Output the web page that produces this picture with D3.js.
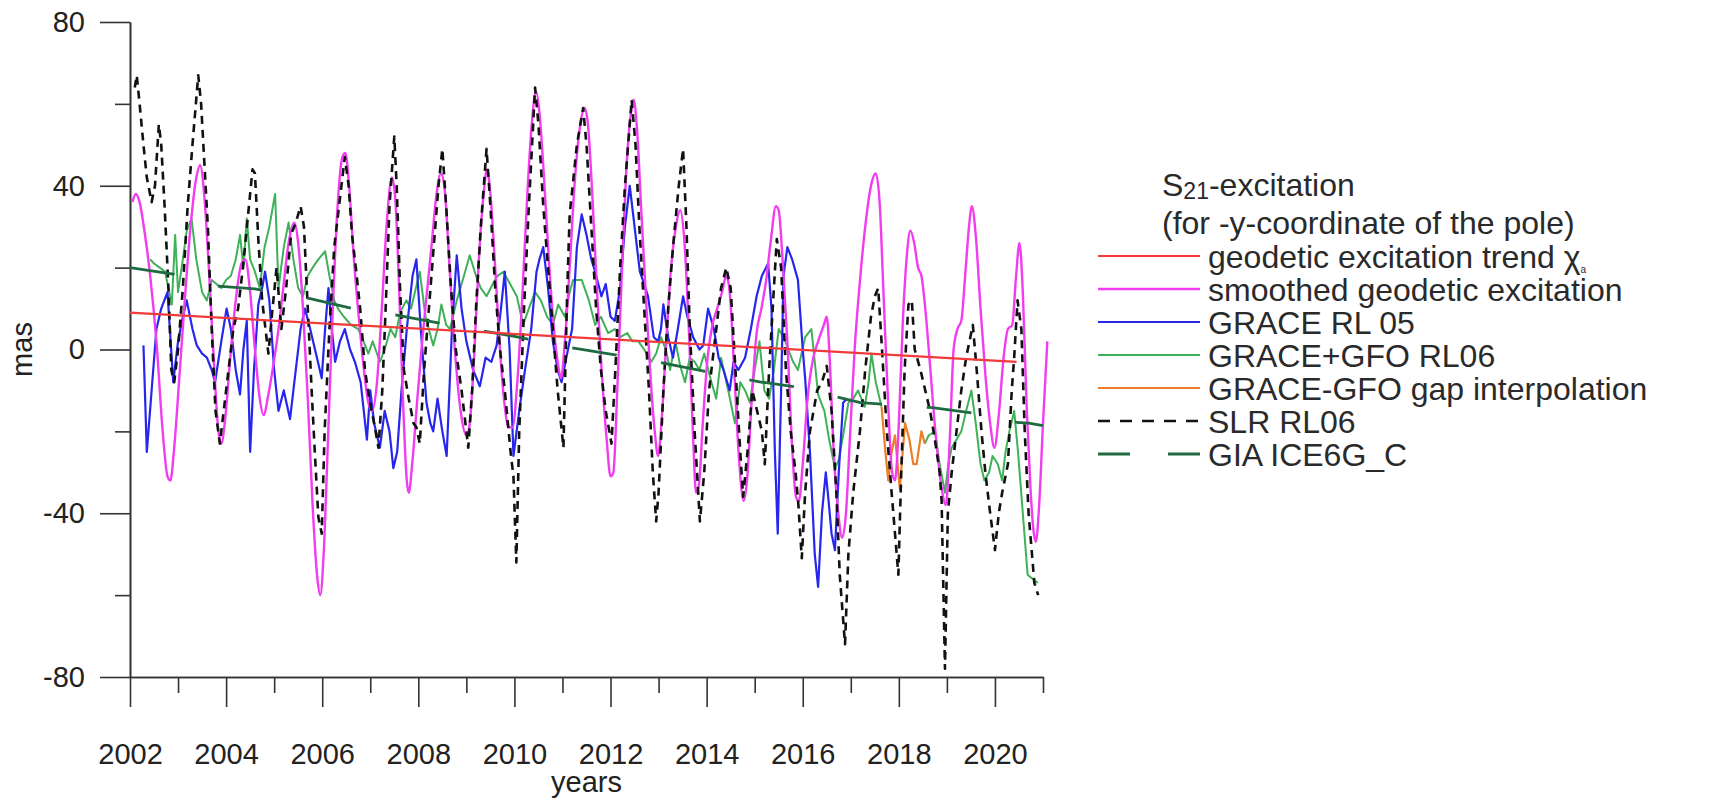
<!DOCTYPE html>
<html>
<head>
<meta charset="utf-8">
<script src="https://cdn.jsdelivr.net/npm/d3@7"></script>
<style>
  html, body { margin: 0; padding: 0; background: #ffffff; }
  svg { display: block; font-family: "Liberation Sans", Arial, sans-serif; }
</style>
</head>
<body>
<svg id="chart" width="1727" height="801"></svg>
<script>
// ---- data: [year, excitation in mas] ----
const trendLine = [[2002.0, 9], [2020.45, -3]];

const smoothedGeodetic = [
  [2002.05,36],[2002.12,38],[2002.2,36],[2002.3,29],[2002.42,18],[2002.55,2],[2002.68,-20],[2002.78,-31],[2002.84,-32],[2002.92,-24],
  [2003.02,-8],[2003.14,12],[2003.26,30],[2003.38,42],[2003.46,45],[2003.55,37],[2003.65,18],[2003.75,-4],[2003.84,-20],[2003.9,-23],
  [2003.98,-17],[2004.08,-3],[2004.2,12],[2004.32,21],[2004.4,22],[2004.5,14],[2004.6,0],[2004.7,-12],[2004.78,-16],[2004.88,-11],
  [2004.98,-4],[2005.08,4],[2005.18,14],[2005.3,26],[2005.42,31],[2005.5,26],[2005.6,10],[2005.7,-12],[2005.8,-38],[2005.9,-56],
  [2005.96,-60],[2006.03,-50],[2006.12,-22],[2006.22,10],[2006.32,35],[2006.42,47],[2006.48,48],[2006.56,40],[2006.66,22],[2006.76,8],
  [2006.86,-4],[2006.96,-13],[2007.04,-15],[2007.14,-8],[2007.24,10],[2007.35,32],[2007.45,42],[2007.52,37],[2007.6,15],[2007.68,-12],
  [2007.76,-32],[2007.8,-35],[2007.88,-27],[2007.98,-12],[2008.08,2],[2008.18,14],[2008.28,26],[2008.38,38],[2008.47,43],[2008.55,39],
  [2008.65,20],[2008.76,0],[2008.88,-15],[2009.0,-21],[2009.06,-19],[2009.16,-2],[2009.26,22],[2009.36,38],[2009.43,44],[2009.5,38],
  [2009.6,20],[2009.7,0],[2009.8,-14],[2009.88,-19],[2009.96,-19],[2010.06,-8],[2010.16,12],[2010.26,36],[2010.36,55],[2010.45,63],
  [2010.52,58],[2010.6,45],[2010.7,25],[2010.8,8],[2010.9,-3],[2010.97,-7],[2011.05,2],[2011.15,20],[2011.25,40],[2011.36,54],
  [2011.46,59],[2011.53,55],[2011.62,38],[2011.72,14],[2011.82,-6],[2011.92,-22],[2012.0,-31],[2012.06,-30],[2012.14,-10],[2012.24,20],
  [2012.34,46],[2012.44,59],[2012.48,61],[2012.55,54],[2012.64,34],[2012.74,12],[2012.84,-8],[2012.92,-20],[2012.99,-26],[2013.06,-18],
  [2013.16,2],[2013.26,20],[2013.36,30],[2013.45,34],[2013.54,26],[2013.64,2],[2013.72,-22],[2013.78,-35],[2013.84,-33],[2013.92,-18],
  [2014.02,-2],[2014.12,6],[2014.22,10],[2014.32,14],[2014.41,18],[2014.48,14],[2014.57,-4],[2014.67,-26],[2014.77,-37],[2014.84,-32],
  [2014.94,-12],[2015.04,4],[2015.14,10],[2015.24,17],[2015.34,27],[2015.44,35],[2015.5,34],[2015.58,22],[2015.68,2],[2015.78,-24],
  [2015.86,-36],[2015.92,-37],[2016.0,-28],[2016.1,-12],[2016.22,-2],[2016.32,2],[2016.44,6],[2016.5,8],[2016.56,-2],[2016.64,-24],
  [2016.74,-40],[2016.82,-46],[2016.9,-40],[2016.98,-22],[2017.08,0],[2017.2,18],[2017.32,32],[2017.44,41],[2017.52,43],[2017.6,36],
  [2017.68,14],[2017.78,-14],[2017.86,-30],[2017.92,-32],[2018.0,-18],[2018.08,6],[2018.16,22],[2018.24,29],[2018.32,26],[2018.4,20],
  [2018.47,18],[2018.55,10],[2018.65,-4],[2018.76,-20],[2018.88,-33],[2018.98,-38],[2019.06,-22],[2019.14,0],[2019.22,5],[2019.3,7],
  [2019.38,18],[2019.46,30],[2019.52,35],[2019.6,28],[2019.7,10],[2019.8,-6],[2019.9,-18],[2019.99,-24],[2020.08,-16],[2020.18,-2],
  [2020.27,5],[2020.36,6],[2020.44,18],[2020.51,26],[2020.58,14],[2020.66,-14],[2020.74,-34],[2020.8,-44],[2020.85,-47],[2020.92,-38],
  [2021.0,-18],[2021.09,2]
];

const graceRL05 = [
  [2002.28,1],[2002.35,-25],[2002.45,-10],[2002.55,5],[2002.65,10],[2002.78,14],[2002.9,-8],[2003.0,2],[2003.1,8],[2003.18,12],
  [2003.3,5],[2003.39,1],[2003.5,-1],[2003.6,-2],[2003.7,-5],[2003.77,-8],[2003.9,2],[2004.01,10],[2004.1,5],[2004.2,-5],
  [2004.29,-11],[2004.36,0],[2004.43,7],[2004.5,-25],[2004.58,-5],[2004.67,11],[2004.75,15],[2004.81,19],[2004.9,12],[2005.0,-5],
  [2005.09,-15],[2005.2,-10],[2005.33,-17],[2005.45,-5],[2005.55,5],[2005.64,10],[2005.75,5],[2005.85,0],[2005.99,-7],[2006.06,5],
  [2006.13,15],[2006.2,5],[2006.27,-3],[2006.37,2],[2006.47,5],[2006.58,0],[2006.68,-3],[2006.8,-8],[2006.93,-22],[2007.0,-10],
  [2007.08,-18],[2007.2,-24],[2007.3,-15],[2007.4,-20],[2007.48,-29],[2007.56,-25],[2007.65,-10],[2007.76,5],[2007.88,18],[2007.96,22],
  [2008.05,5],[2008.17,-13],[2008.25,-18],[2008.31,-20],[2008.4,-12],[2008.5,-20],[2008.59,-26],[2008.7,5],[2008.8,23],[2008.9,10],
  [2009.0,2],[2009.14,-5],[2009.28,-9],[2009.4,-2],[2009.52,-3],[2009.63,1],[2009.72,10],[2009.8,19],[2009.9,0],[2009.98,-26],
  [2010.1,-15],[2010.22,-5],[2010.35,5],[2010.46,19],[2010.52,22],[2010.6,25],[2010.7,15],[2010.8,2],[2010.9,-5],[2010.98,-8],
  [2011.08,-2],[2011.2,5],[2011.3,25],[2011.4,33],[2011.5,28],[2011.6,22],[2011.68,19],[2011.81,13],[2011.9,16],[2012.0,8],
  [2012.09,7],[2012.2,15],[2012.3,30],[2012.4,40],[2012.5,30],[2012.61,19],[2012.7,16],[2012.78,13],[2012.9,3],[2012.99,2],
  [2013.05,5],[2013.1,11],[2013.2,3],[2013.3,-2],[2013.4,5],[2013.51,13],[2013.6,8],[2013.72,3],[2013.85,0],[2013.93,1],
  [2014.03,10],[2014.15,5],[2014.25,-2],[2014.35,-5],[2014.48,-10],[2014.56,-3],[2014.66,-5],[2014.8,-2],[2014.92,5],[2015.04,13],
  [2015.15,18],[2015.28,21],[2015.35,10],[2015.42,-25],[2015.48,-45],[2015.55,-10],[2015.6,18],[2015.68,25],[2015.78,22],[2015.9,17],
  [2016.0,0],[2016.05,-7],[2016.15,-25],[2016.25,-50],[2016.32,-58],[2016.4,-40],[2016.48,-30],[2016.53,-36],[2016.6,-45],[2016.67,-49],
  [2016.75,-30],[2016.84,-13],[2016.92,-12]
];

const graceGfoRL06 = [
  [2002.42,22],[2002.5,21],[2002.62,20],[2002.73,19],[2002.87,11],[2002.94,28],[2003.0,14],[2003.1,22],[2003.18,29],[2003.28,32],
  [2003.38,22],[2003.5,14],[2003.6,12],[2003.7,17],[2003.8,16],[2003.9,15],[2004.0,17],[2004.1,18],[2004.2,22],[2004.29,28],
  [2004.36,20],[2004.43,32],[2004.5,22],[2004.6,19],[2004.7,15],[2004.8,25],[2004.9,30],[2005.02,38],[2005.09,15],[2005.2,25],
  [2005.3,31],[2005.4,22],[2005.5,15],[2005.6,13],[2005.7,18],[2005.8,20],[2005.92,22],[2006.06,24],[2006.15,18],[2006.25,12],
  [2006.33,10],[2006.45,8],[2006.6,6],[2006.75,5],[2006.86,2],[2006.96,-1],[2007.05,2],[2007.2,-3],[2007.3,0],[2007.42,5],
  [2007.52,3],[2007.62,9],[2007.75,12],[2007.85,10],[2007.95,15],[2008.03,19],[2008.15,8],[2008.31,1],[2008.4,5],[2008.48,11],
  [2008.58,6],[2008.66,5],[2008.8,12],[2008.95,18],[2009.07,23],[2009.2,18],[2009.3,15],[2009.42,13],[2009.55,16],[2009.65,18],
  [2009.77,19],[2009.91,16],[2010.05,13],[2010.18,6],[2010.3,10],[2010.43,14],[2010.55,12],[2010.68,8],[2010.8,6],[2010.91,11],
  [2011.05,8],[2011.15,14],[2011.22,17],[2011.4,17],[2011.55,12],[2011.68,6],[2011.8,8],[2011.95,4],[2012.09,5],[2012.2,3],
  [2012.35,4],[2012.45,2],[2012.58,2],[2012.7,0],[2012.85,-3],[2012.95,-1],[2013.05,3],[2013.15,0],[2013.24,-5],[2013.35,2],
  [2013.45,-4],[2013.55,-8],[2013.65,-2],[2013.75,-3],[2013.85,-5],[2013.95,-1],[2014.1,-8],[2014.2,-12],[2014.3,-2],[2014.45,-10],
  [2014.59,-18],[2014.7,-8],[2014.8,-10],[2014.9,-13],[2015.0,-5],[2015.1,2],[2015.2,-10],[2015.3,-12],[2015.4,-5],[2015.5,5],
  [2015.6,3],[2015.7,0],[2015.8,-3],[2015.9,-5],[2016.05,3],[2016.18,5],[2016.25,-3],[2016.32,-11],[2016.45,-15],[2016.55,-22],
  [2016.67,-29],[2016.75,-27],[2016.84,-21],[2016.95,-13],[2017.05,-12],[2017.15,-10],[2017.29,-14],[2017.37,-8],[2017.43,-1],[2017.52,-8],
  [2017.6,-12],[2017.64,-14],
  null,
  [2018.54,-23],[2018.62,-21],[2018.75,-20],[2018.85,-28],[2018.96,-35],[2019.03,-28],[2019.1,-24],[2019.2,-22],[2019.3,-20],[2019.4,-15],
  [2019.51,-10],[2019.6,-18],[2019.7,-28],[2019.78,-32],[2019.88,-30],[2019.95,-26],[2020.06,-28],[2020.15,-32],[2020.22,-25],[2020.3,-20],
  [2020.4,-15],[2020.48,-25],[2020.58,-40],[2020.68,-55],[2020.78,-56],[2020.89,-57]
];

const gapInterpolation = [
  [2017.64,-14],[2017.72,-25],[2017.78,-32],[2017.85,-25],[2017.92,-21],[2018.02,-34],[2018.08,-25],[2018.13,-18],[2018.22,-22],[2018.3,-28],
  [2018.37,-28],[2018.47,-20],[2018.54,-23]
];

const slrRL06 = [
  [2002.1,64],[2002.14,67],[2002.2,60],[2002.28,50],[2002.35,42],[2002.45,36],[2002.52,40],[2002.6,55],[2002.65,50],[2002.72,35],
  [2002.8,15],[2002.86,-5],[2002.92,-8],[2003.0,0],[2003.1,15],[2003.2,35],[2003.3,50],[2003.42,67],[2003.48,60],[2003.55,45],
  [2003.62,30],[2003.7,5],[2003.78,-15],[2003.87,-23],[2003.95,-15],[2004.05,-5],[2004.15,5],[2004.25,10],[2004.35,20],[2004.45,32],
  [2004.55,44],[2004.6,43],[2004.67,27],[2004.75,12],[2004.88,-1],[2004.95,8],[2005.05,20],[2005.15,5],[2005.25,15],[2005.35,28],
  [2005.45,31],[2005.55,35],[2005.62,30],[2005.7,10],[2005.78,-10],[2005.85,-26],[2005.92,-41],[2005.99,-45],[2006.05,-20],[2006.15,5],
  [2006.25,25],[2006.33,33],[2006.42,42],[2006.47,47],[2006.55,40],[2006.62,28],[2006.7,20],[2006.79,10],[2006.89,-5],[2006.98,-12],
  [2007.08,-18],[2007.17,-24],[2007.25,-10],[2007.32,10],[2007.4,35],[2007.5,52],[2007.55,40],[2007.62,15],[2007.7,-5],[2007.8,-12],
  [2007.9,-18],[2007.96,-19],[2008.03,-23],[2008.12,-5],[2008.22,10],[2008.32,25],[2008.42,40],[2008.5,49],[2008.58,35],[2008.68,15],
  [2008.78,0],[2008.9,-10],[2009.0,-20],[2009.04,-24],[2009.12,-10],[2009.2,10],[2009.3,30],[2009.42,49],[2009.5,35],[2009.6,15],
  [2009.7,0],[2009.8,-10],[2009.84,-15],[2009.92,-25],[2009.98,-31],[2010.04,-52],[2010.1,-20],[2010.2,10],[2010.3,35],[2010.43,64],
  [2010.5,55],[2010.6,35],[2010.7,20],[2010.8,5],[2010.9,-10],[2011.02,-24],[2011.1,15],[2011.15,33],[2011.3,50],[2011.43,59],
  [2011.5,50],[2011.6,30],[2011.7,10],[2011.8,-5],[2011.9,-15],[2012.02,-23],[2012.1,-5],[2012.2,20],[2012.3,40],[2012.44,61],
  [2012.52,50],[2012.6,30],[2012.7,10],[2012.8,-10],[2012.88,-30],[2012.95,-42],[2013.0,-35],[2013.1,-10],[2013.2,10],[2013.3,25],
  [2013.42,40],[2013.51,49],[2013.58,30],[2013.65,5],[2013.75,-20],[2013.86,-42],[2013.95,-30],[2014.05,-10],[2014.15,0],[2014.3,15],
  [2014.41,20],[2014.5,15],[2014.6,-5],[2014.7,-25],[2014.76,-36],[2014.85,-25],[2014.95,-10],[2015.05,-15],[2015.15,-20],[2015.21,-28],
  [2015.3,-5],[2015.4,15],[2015.46,27],[2015.55,20],[2015.65,-5],[2015.75,-20],[2015.85,-30],[2015.91,-38],[2015.98,-51],[2016.05,-35],
  [2016.15,-20],[2016.3,-10],[2016.4,-8],[2016.5,-4],[2016.6,-15],[2016.7,-35],[2016.77,-55],[2016.88,-72],[2016.95,-50],[2017.05,-35],
  [2017.19,-20],[2017.3,-5],[2017.42,8],[2017.5,13],[2017.57,15],[2017.65,0],[2017.75,-20],[2017.85,-35],[2017.92,-45],[2017.99,-55],
  [2018.05,-30],[2018.12,-5],[2018.2,11],[2018.27,12],[2018.33,0],[2018.45,-5],[2018.55,-10],[2018.65,-15],[2018.75,-22],[2018.85,-30],
  [2018.89,-37],[2018.96,-78],[2019.02,-40],[2019.1,-30],[2019.2,-20],[2019.3,-10],[2019.4,-2],[2019.54,6],[2019.62,-5],[2019.72,-20],
  [2019.8,-30],[2019.89,-39],[2020.0,-49],[2020.08,-40],[2020.15,-35],[2020.27,-28],[2020.35,-10],[2020.4,-2],[2020.47,12],[2020.55,5],
  [2020.62,-20],[2020.7,-40],[2020.82,-57],[2020.9,-60]
];

const giaIce6gC = [
  [2002.0,20],[2002.9,18.4],[2003.8,15.5],[2004.6,14.8],[2005.75,12.4],[2006.7,9.8],[2007.6,8.3],[2008.5,6.3],[2010.0,3.2],[2011.3,0.2],
  [2012.2,-1.5],[2013.1,-3.3],[2014.2,-5.9],[2015.1,-7.9],[2015.9,-9.2],[2017.2,-13],[2017.85,-13.5],[2018.7,-14.2],[2019.7,-15.8],[2020.1,-17.5],
  [2020.7,-18],[2021.0,-18.6]
];

// ---- axis ticks ----
const yMajorTicks = [-80, -40, 0, 40, 80];
const yMinorTicks = [-60, -20, 20, 60];
const xMajorTicks = [2002, 2004, 2006, 2008, 2010, 2012, 2014, 2016, 2018, 2020];
const xMinorTicks = [2003, 2005, 2007, 2009, 2011, 2013, 2015, 2017, 2019, 2021];

// ---- legend entries ----
const legendLabels = [
  "geodetic excitation trend χ",
  "smoothed geodetic excitation",
  "GRACE RL 05",
  "GRACE+GFO RL06",
  "GRACE-GFO gap interpolation",
  "SLR RL06",
  "GIA ICE6G_C"
];

// ---- styles ----
const styles = {
  trend:    { color: "#f23a3a", width: 2.2, dash: null },
  smoothed: { color: "#f23cf0", width: 2.4, dash: null },
  grace05:  { color: "#2626ee", width: 2.2, dash: null },
  grace06:  { color: "#3fb158", width: 2.0, dash: null },
  gap:      { color: "#ee7d27", width: 2.2, dash: null },
  slr:      { color: "#111111", width: 2.6, dash: "8,6" },
  gia:      { color: "#1f6a40", width: 2.8, dash: "45,45" }
};

const svg = d3.select("#chart");
const x = d3.scaleLinear().domain([2002, 2021]).range([130, 1043]);
const y = d3.scaleLinear().domain([-80, 80]).range([677, 22]);

const axisColor = "#333";
const textColor = "#222";
const tickFont = 29;
const fmt = d => String(d);   // plain hyphen for negative numbers

// y axis: long major ticks with labels, short minor ticks
const yAxisG = svg.append("g").attr("transform", `translate(${x(2002)},0)`);
yAxisG.call(d3.axisLeft(y).tickValues(yMajorTicks).tickSize(30).tickSizeOuter(0).tickPadding(15).tickFormat(fmt));
yAxisG.append("g").call(d3.axisLeft(y).tickValues(yMinorTicks).tickSize(15).tickSizeOuter(0).tickFormat(""));
yAxisG.selectAll(".domain").attr("stroke", axisColor).attr("stroke-width", 1.6);
yAxisG.selectAll(".tick line").attr("stroke", axisColor).attr("stroke-width", 1.6);
yAxisG.selectAll(".tick text").attr("font-size", tickFont).attr("fill", textColor)
  .attr("font-family", "Liberation Sans, Arial, sans-serif");

// x axis: ticks hang below the baseline
const xAxisG = svg.append("g").attr("transform", `translate(0,${y(-80)})`);
xAxisG.call(d3.axisBottom(x).tickValues(xMajorTicks).tickSize(30).tickSizeOuter(0).tickPadding(36).tickFormat(fmt));
xAxisG.append("g").call(d3.axisBottom(x).tickValues(xMinorTicks).tickSize(16).tickSizeOuter(0).tickFormat(""));
xAxisG.selectAll(".domain").attr("stroke", axisColor).attr("stroke-width", 1.6);
xAxisG.selectAll(".tick line").attr("stroke", axisColor).attr("stroke-width", 1.6);
xAxisG.selectAll(".tick text").attr("font-size", tickFont).attr("fill", textColor)
  .attr("font-family", "Liberation Sans, Arial, sans-serif");

// axis titles
svg.append("text")
  .attr("x", (x(2002) + x(2021)) / 2).attr("y", 792)
  .attr("text-anchor", "middle").attr("font-size", tickFont).attr("fill", textColor)
  .text("years");
svg.append("text")
  .attr("transform", `translate(32,${y(0)}) rotate(-90)`)
  .attr("text-anchor", "middle").attr("font-size", tickFont).attr("fill", textColor)
  .text("mas");

// series
const plot = svg.append("g");
const lineLinear = d3.line().defined(d => d !== null).x(d => x(d[0])).y(d => y(d[1]));
const lineSmooth = d3.line().x(d => x(d[0])).y(d => y(d[1])).curve(d3.curveMonotoneX);

function drawSeries(data, st, gen) {
  const p = plot.append("path").datum(data)
    .attr("d", gen)
    .attr("fill", "none")
    .attr("stroke", st.color)
    .attr("stroke-width", st.width)
    .attr("stroke-linejoin", "round");
  if (st.dash) p.attr("stroke-dasharray", st.dash);
  return p;
}

drawSeries(graceGfoRL06, styles.grace06, lineLinear);
drawSeries(gapInterpolation, styles.gap, lineLinear);
drawSeries(graceRL05, styles.grace05, lineLinear);
drawSeries(smoothedGeodetic, styles.smoothed, lineSmooth);
drawSeries(slrRL06, styles.slr, lineLinear);
drawSeries(giaIce6gC, styles.gia, lineLinear);
drawSeries(trendLine, styles.trend, lineLinear);

// legend
const legendFont = 32;
const legendStyles = [styles.trend, styles.smoothed, styles.grace05, styles.grace06, styles.gap, styles.slr, styles.gia];
const legend = svg.append("g").attr("font-size", legendFont).attr("fill", "#2a2a2a");

const title = legend.append("text").attr("x", 1162).attr("y", 196);
title.append("tspan").text("S");
title.append("tspan").attr("dy", 3).attr("font-size", 23).text("21");
title.append("tspan").attr("dy", -3).text("-excitation");
legend.append("text").attr("x", 1162).attr("y", 234).text("(for -y-coordinate of the pole)");

const rowY = i => 256 + i * 33;
legendLabels.forEach((lab, i) => {
  const st = legendStyles[i];
  const ln = legend.append("line")
    .attr("x1", 1098).attr("x2", 1200)
    .attr("y1", rowY(i)).attr("y2", rowY(i))
    .attr("stroke", st.color).attr("stroke-width", st.width);
  if (i === 5) ln.attr("stroke-dasharray", "12,10");
  if (i === 6) ln.attr("stroke-dasharray", "32,38");
  const t = legend.append("text").attr("x", 1208).attr("y", rowY(i) + 11.5);
  t.append("tspan").text(lab);
  if (i === 0) t.append("tspan").attr("dy", 5).attr("font-size", 10).text("a");
});
</script>
</body>
</html>
